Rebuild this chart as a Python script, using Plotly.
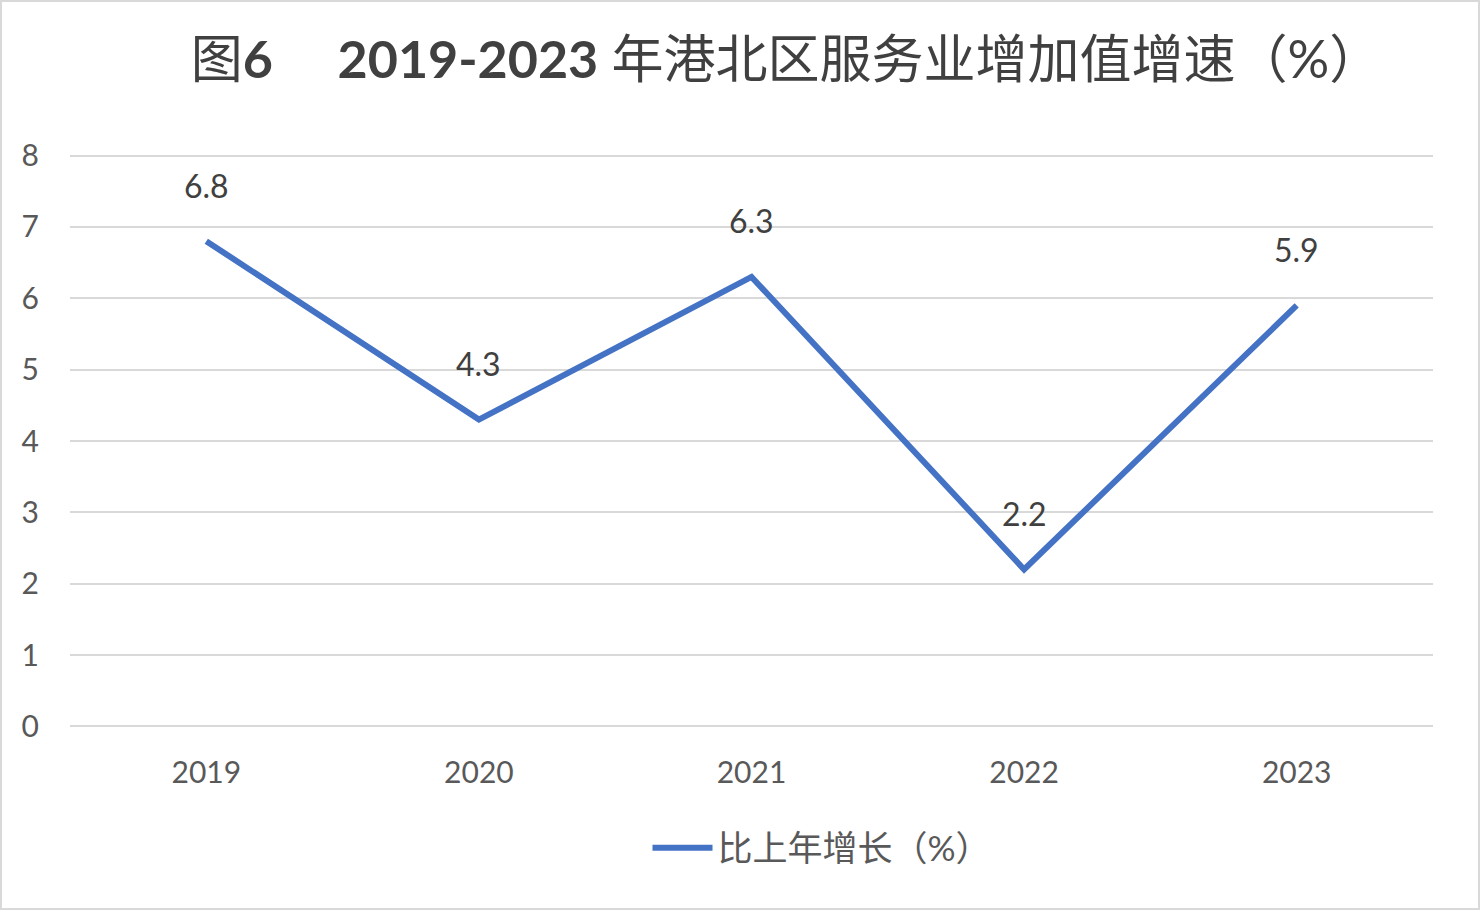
import plotly.graph_objects as go

# Data
years = ['2019', '2020', '2021', '2022', '2023']
growth = [6.8, 4.3, 6.3, 2.2, 5.9]
series_name = '比上年增长（%）'
title_text = '图<b>6　 2019-2023</b> 年港北区服务业增加值增速（%）'

W, H = 1482, 912
L, R, T, B = 70, 49, 152, 182
pw, ph = W - L - R, H - T - B

font_family = 'Lato, "Noto Sans CJK SC", sans-serif'

fig = go.Figure()

fig.add_trace(go.Scatter(
    x=years,
    y=growth,
    mode='lines',
    name=series_name,
    line=dict(color='#4472C4', width=6),
))

# data labels
for i, v in enumerate(growth):
    fig.add_annotation(
        x=i, y=v, xref='x', yref='y', text=f'{v:.1f}', showarrow=False,
        yshift=56, font=dict(size=32, color='#404040'),
    )

# outer border of the chart area
px_x = lambda p: (p - L) / pw
px_y = lambda p: (H - B - p) / ph
fig.add_shape(type='rect', xref='paper', yref='paper',
              x0=px_x(1), x1=px_x(W - 3), y0=px_y(H - 3), y1=px_y(1),
              line=dict(color='#d9d9d9', width=2), layer='below')

fig.update_layout(
    width=W, height=H,
    margin=dict(l=L, r=R, t=T, b=B),
    paper_bgcolor='white', plot_bgcolor='white',
    font=dict(family=font_family, color='#595959'),
    title=dict(
        text=title_text,
        x=786 / W, xanchor='center',
        y=1 - 60 / H, yanchor='middle',
        font=dict(size=52, color='#404040', family=font_family),
    ),
    showlegend=True,
    legend=dict(
        orientation='h', x=px_x(822), xanchor='center',
        y=px_y(848), yanchor='middle',
        font=dict(size=35, color='#595959'),
        itemwidth=60,
    ),
    xaxis=dict(
        type='category', range=[-0.5, 4.5],
        showgrid=False, showline=False, zeroline=False,
        ticks='', tickfont=dict(size=30, color='#595959'),
        ticklabelstandoff=22,
    ),
    yaxis=dict(
        range=[-0.05, 8.05], tickvals=[0, 1, 2, 3, 4, 5, 6, 7, 8],
        showgrid=True, gridcolor='#d9d9d9', gridwidth=2,
        zeroline=False, showline=False, ticks='',
        tickfont=dict(size=30, color='#595959'),
        ticklabelstandoff=30,
    ),
)

fig.write_html('out.html', config={'displayModeBar': False},
               post_script="document.body.style.margin='0';")
